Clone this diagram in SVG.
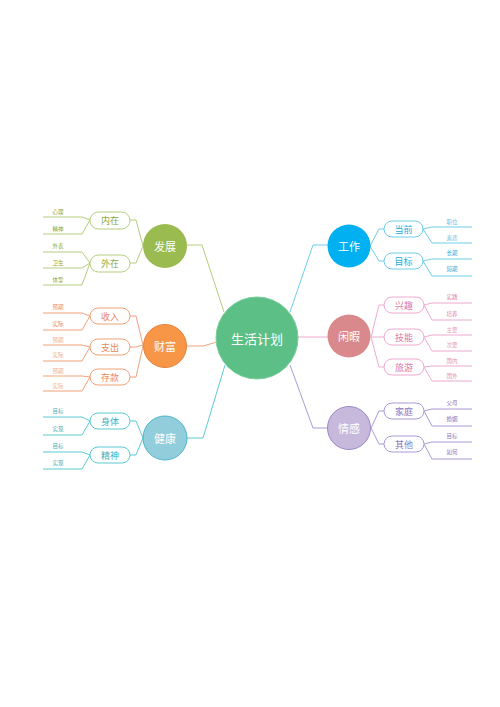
<svg xmlns="http://www.w3.org/2000/svg" width="500" height="707" viewBox="0 0 500 707">
<style>
text{font-family:"Noto Sans CJK SC","Noto Sans",sans-serif;text-anchor:middle;dominant-baseline:central}
.ln{fill:none;stroke-width:1}
.pill{fill:#fff;stroke-width:1}
.pt{font-size:9px}
.lt{font-size:5.5px}
.mt{font-size:11px;fill:#fff}
.g{stroke:#b3cd7c}.gt{fill:#8aa840}
.o{stroke:#f0a27a}.ot{fill:#e8885a}
.c{stroke:#5ccad2}.ct{fill:#3cb0bc}
.b{stroke:#6ccfe8}.bt{fill:#2aaad8}
.p{stroke:#eeaad0}.pk{fill:#d878a8}
.v{stroke:#aa9ad6}.vt{fill:#8a78c0}
</style>
<rect width="500" height="707" fill="#fff"/>
<g id="connectors">
<path class="ln g" d="M187,245 H202 L224,312"/>
<path class="ln o" d="M187,346 H203 L217,342"/>
<path class="ln c" d="M187,438 H203 L225,365"/>
<path class="ln b" d="M328,245 H313 L290,312"/>
<path class="ln p" d="M298,337 H328"/>
<path class="ln v" d="M290,365 L313,428 H328"/>
<path class="ln g" d="M143,246 L136,220 H130 M143,246 L136,263 H130"/>
<path class="ln g" d="M90,220 L82,217 H43 M90,220 L82,234 H43 M90,263 L82,252 H43 M90,263 L82,268 H43 M90,263 L82,285 H43"/>
<path class="ln o" d="M143,345 L136,316 H130 M143,345 L136,347 H130 M143,346 L136,377 H130"/>
<path class="ln o" d="M90,316 L82,313 H43 M90,316 L82,330 H43 M90,347 L82,345 H43 M90,347 L82,361 H43 M90,377 L82,376 H43 M90,377 L82,391 H43"/>
<path class="ln c" d="M143,438 L136,421 H130 M143,438 L136,455 H130"/>
<path class="ln c" d="M90,421 L82,417 H43 M90,421 L82,435 H43 M90,455 L82,452 H43 M90,455 L82,469 H43"/>
<path class="ln b" d="M370,246 L379,229 H384 M370,246 L379,261 H384"/>
<path class="ln b" d="M423,229 L432,227 H472 M423,229 L432,243 H472 M423,261 L432,259 H472 M423,261 L432,276 H472"/>
<path class="ln p" d="M371,337 L379,305 H384 M371,337 H384 M371,337 L379,367 H384"/>
<path class="ln p" d="M424,305 L432,303 H472 M424,305 L432,320 H472 M424,337 L432,335 H472 M424,337 L432,351 H472 M424,367 L432,366 H472 M424,367 L432,381 H472"/>
<path class="ln v" d="M371,428 L379,411 H384 M371,428 L379,444 H384"/>
<path class="ln v" d="M424,411 L432,409 H472 M424,411 L432,426 H472 M424,444 L432,442 H472 M424,444 L432,459 H472"/>
</g>
<g id="center"><circle cx="257" cy="338" r="41" fill="#5cbf85" stroke="#7acf9a" stroke-width="1"/><text x="257" y="338" font-size="13" fill="#fff">生活计划</text></g>
<g id="fazhan"><circle cx="165" cy="246" r="22" fill="#99bb4f"/><text class="mt" x="165" y="246">发展</text></g>
<g id="caifu"><circle cx="165" cy="346" r="21.5" fill="#f79646" stroke="#e8803a"/><text class="mt" x="165" y="346">财富</text></g>
<g id="jiankang"><circle cx="165" cy="438" r="22" fill="#92cddc" stroke="#4bb6c8"/><text class="mt" x="165" y="438">健康</text></g>
<g id="gongzuo"><circle cx="349" cy="246" r="21.5" fill="#00b0f0"/><text class="mt" x="349" y="246">工作</text></g>
<g id="xianxia"><circle cx="349" cy="336" r="21.5" fill="#d9888c"/><text class="mt" x="349" y="336">闲暇</text></g>
<g id="qinggan"><circle cx="349" cy="428" r="21.5" fill="#c7b9dc" stroke="#9a87c4"/><text class="mt" x="349" y="428">情感</text></g>
<g id="neizai"><rect class="pill g" x="90" y="212" width="40" height="17" rx="8.5"/><text class="pt gt" x="110" y="220.5">内在</text></g>
<g id="waizai"><rect class="pill g" x="90" y="255" width="40" height="17" rx="8.5"/><text class="pt gt" x="110" y="263.5">外在</text></g>
<g id="shouru"><rect class="pill o" x="90" y="308" width="40" height="16" rx="8"/><text class="pt ot" x="110" y="316">收入</text></g>
<g id="zhichu"><rect class="pill o" x="90" y="339" width="40" height="16" rx="8"/><text class="pt ot" x="110" y="347">支出</text></g>
<g id="cunkuan"><rect class="pill o" x="90" y="369" width="40" height="16" rx="8"/><text class="pt ot" x="110" y="377">存款</text></g>
<g id="shenti"><rect class="pill c" x="90" y="413" width="40" height="16" rx="8"/><text class="pt ct" x="110" y="421">身体</text></g>
<g id="jingshen"><rect class="pill c" x="90" y="447" width="40" height="16" rx="8"/><text class="pt ct" x="110" y="455">精神</text></g>
<g id="dangqian"><rect class="pill b" x="384" y="221" width="39" height="16" rx="8"/><text class="pt bt" x="403.5" y="229">当前</text></g>
<g id="mubiao"><rect class="pill b" x="384" y="253" width="39" height="16" rx="8"/><text class="pt bt" x="403.5" y="261">目标</text></g>
<g id="xingqu"><rect class="pill p" x="384" y="297" width="40" height="16" rx="8"/><text class="pt pk" x="404" y="305">兴趣</text></g>
<g id="jineng"><rect class="pill p" x="384" y="329" width="40" height="16" rx="8"/><text class="pt pk" x="404" y="337">技能</text></g>
<g id="lvyou"><rect class="pill p" x="384" y="359" width="40" height="16" rx="8"/><text class="pt pk" x="404" y="367">旅游</text></g>
<g id="jiating"><rect class="pill v" x="384" y="403" width="40" height="16" rx="8"/><text class="pt vt" x="404" y="411">家庭</text></g>
<g id="qita"><rect class="pill v" x="384" y="436" width="40" height="16" rx="8"/><text class="pt vt" x="404" y="444">其他</text></g>
<g id="leaves">
<text class="lt gt" x="58" y="212">心理</text><text class="lt gt" x="58" y="229">精神</text>
<text class="lt gt" x="58" y="246">外表</text><text class="lt gt" x="58" y="263">卫生</text><text class="lt gt" x="58" y="280">体型</text>
<text class="lt ot" x="58" y="307">预期</text><text class="lt ot" x="58" y="324">实际</text>
<text class="lt ot" x="58" y="340" opacity="0.7">预期</text><text class="lt ot" x="58" y="355" opacity="0.7">实际</text>
<text class="lt ot" x="58" y="371" opacity="0.7">预期</text><text class="lt ot" x="58" y="386" opacity="0.7">实际</text>
<text class="lt ct" x="58" y="411">目标</text><text class="lt ct" x="58" y="429">实现</text>
<text class="lt ct" x="58" y="446">目标</text><text class="lt ct" x="58" y="463">实现</text>
<text class="lt bt" x="452" y="222" opacity="0.7">职位</text><text class="lt bt" x="452" y="238" opacity="0.7">素质</text>
<text class="lt bt" x="452" y="253">长期</text><text class="lt bt" x="452" y="269">短期</text>
<text class="lt pk" x="452" y="297">实践</text><text class="lt pk" x="452" y="314">培养</text>
<text class="lt pk" x="452" y="330" opacity="0.7">主要</text><text class="lt pk" x="452" y="345" opacity="0.7">次要</text>
<text class="lt pk" x="452" y="361" opacity="0.8">国内</text><text class="lt pk" x="452" y="376" opacity="0.8">国外</text>
<text class="lt vt" x="452" y="403">父母</text><text class="lt vt" x="452" y="419">婚姻</text>
<text class="lt vt" x="452" y="436">目标</text><text class="lt vt" x="452" y="452">如何</text>
</g>
</svg>
